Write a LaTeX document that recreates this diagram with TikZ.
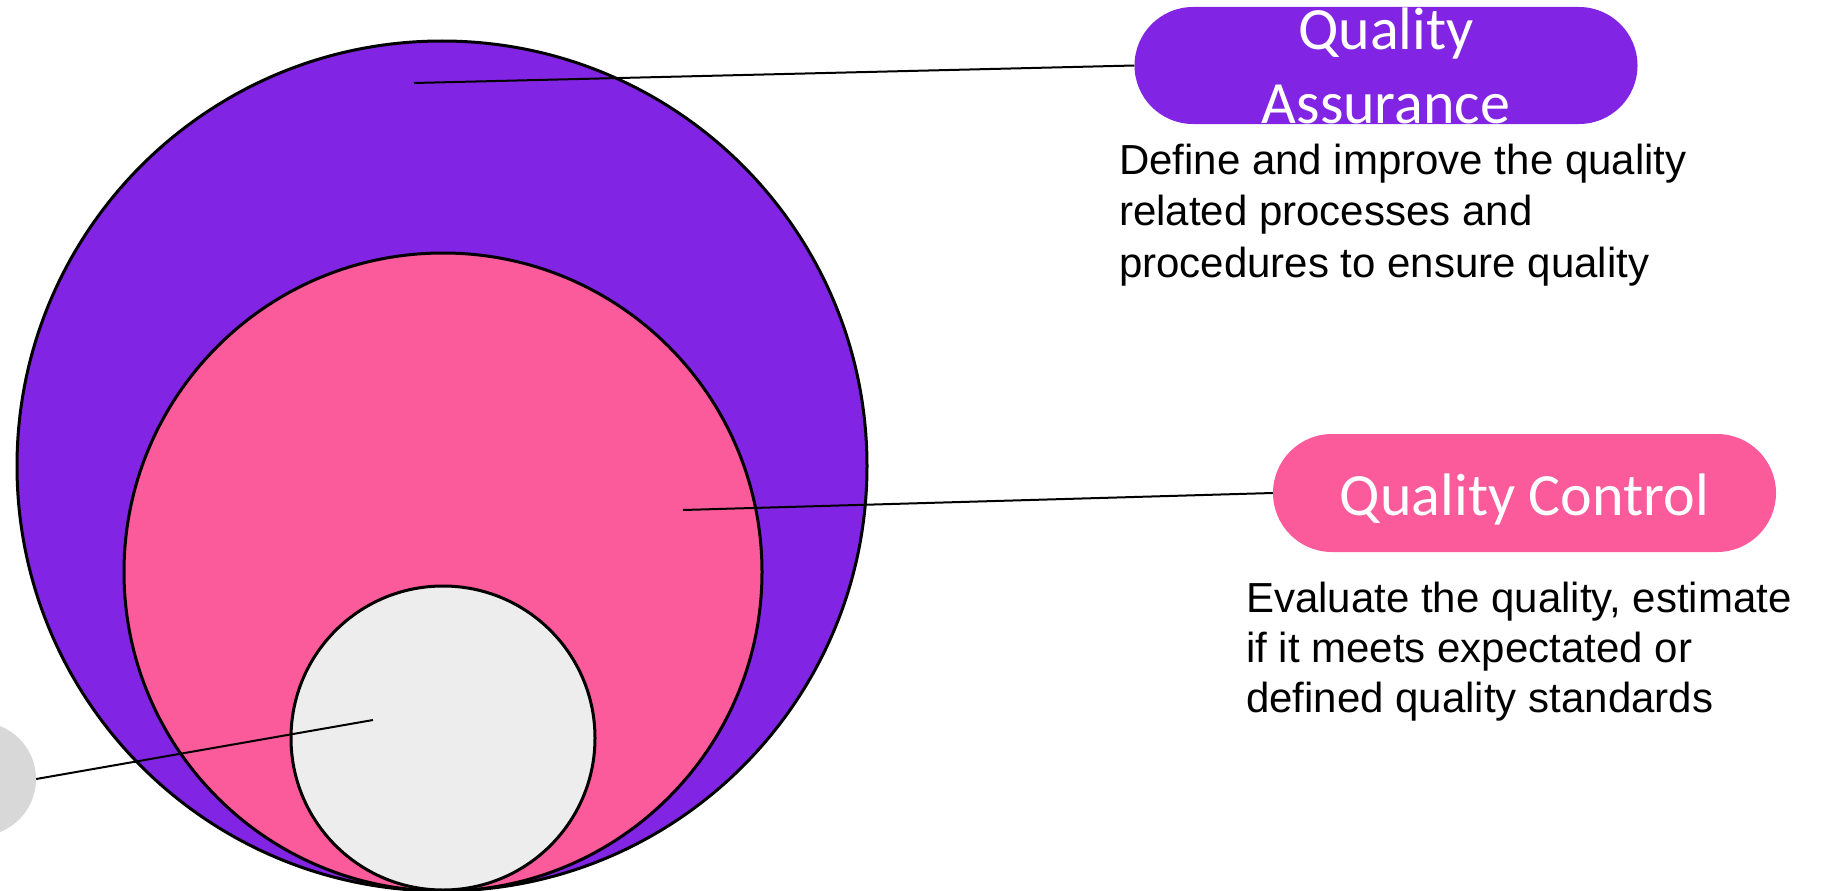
\documentclass[tikz,border=0pt]{standalone}
\usepackage{fontspec}
\setmainfont{Liberation Sans}
\newfontfamily\pillfont{Carlito}
\usetikzlibrary{shapes.misc}
\definecolor{qapurple}{HTML}{8224E3}
\definecolor{qcpink}{HTML}{FB5A9B}
\definecolor{innergray}{HTML}{EDEDED}
\definecolor{extgray}{HTML}{D8D8D8}
\tikzset{
  ring/.style={circle, draw=black, line width=3pt, inner sep=0pt},
  pill/.style={rounded rectangle, inner sep=0pt, minimum width=503pt, text=white, align=center},
  desc/.style={inner sep=0pt, align=left, anchor=base west},
  link/.style={draw=black, line width=2pt}
}
\begin{document}
\begin{tikzpicture}[x=1pt,y=-1pt]
\useasboundingbox (0,0) rectangle (1834,891);
% circles
\node[ring, fill=qapurple, minimum size=850pt] (qa) at (442,466) {};
\node[ring, fill=qcpink, minimum size=638pt] (qc) at (443,572) {};
\node[ring, fill=innergray, minimum size=304pt] (core) at (443,738) {};
\node[circle, fill=extgray, inner sep=0pt, minimum size=114pt] (ext) at (-21,779) {};
% pills
\node[pill, fill=qapurple, minimum height=117pt, font=\pillfont\fontsize{60}{74}\selectfont] (qapill) at (1386,65.5) {Quality\\Assurance};
\node[pill, fill=qcpink, minimum height=118pt, text height=44pt, text depth=0pt, font=\pillfont\fontsize{60}{68}\selectfont] (qcpill) at (1524.5,493) {Quality Control};
% descriptions (base anchor = baseline of last line)
\node[desc, font=\fontsize{42}{51.5}\selectfont] (qadesc) at (1119,277) {Define and improve the quality\\related processes and\\procedures to ensure quality};
\node[desc, font=\fontsize{42}{50}\selectfont] (qcdesc) at (1246,712) {Evaluate the quality, estimate\\if it meets expectated or\\defined quality standards};
% connectors
\coordinate (qain) at (414,83);
\coordinate (qcin) at (683,510);
\coordinate (corein) at (373,720);
\draw[link] (qain) -- (qapill.west);
\draw[link] (qcin) -- (qcpill.west);
\draw[link] (ext.east) -- (corein);
\end{tikzpicture}
\end{document}
